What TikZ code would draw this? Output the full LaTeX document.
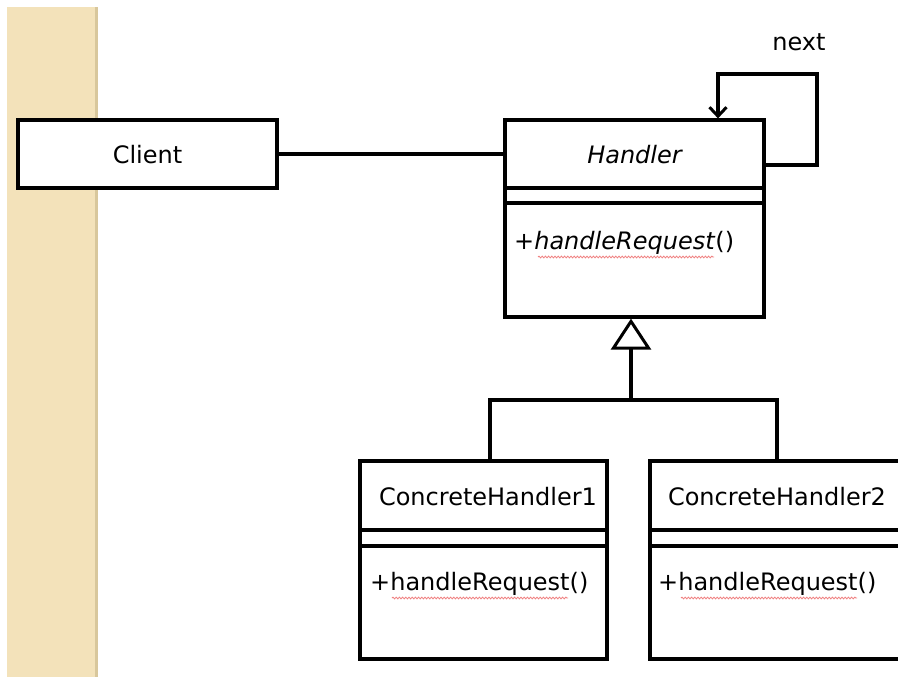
\documentclass[tikz,border=0pt]{standalone}
\usepackage{fontspec}
\setmainfont{DejaVu Sans}
\usetikzlibrary{arrows.meta,decorations.pathmorphing}
\definecolor{strip}{HTML}{F3E2BA}
\definecolor{stripedge}{HTML}{D8C79C}
\definecolor{squig}{HTML}{F08080}
\tikzset{
  x=1pt,y=-1pt,
  umlbox/.style={draw=black,line width=3.2pt,fill=white,rectangle,inner sep=0pt},
  conn/.style={draw=black,line width=3.2pt},
  lbl/.style={inner sep=0pt,font=\fontsize{24}{28}\selectfont},
  mlbl/.style={lbl,anchor=west},
  squiggle/.style={draw=squig,line width=0.8pt,decorate,decoration={snake,amplitude=0.9pt,segment length=3.2pt}}
}
\begin{document}
\begin{tikzpicture}
\useasboundingbox (0,0) rectangle (898,677);
\clip (0,0) rectangle (898,677);
% left strip
\fill[strip] (7,7) rectangle (98,677);
\fill[stripedge] (95,7) rectangle (98,677);

% Client
\node[umlbox,minimum width=259pt,minimum height=68pt] (client) at (147.5,154) {};
\node[lbl] (clientname) at (147.5,155) {Client};

% Handler
\node[umlbox,minimum width=259pt,minimum height=197pt] (handler) at (634.5,218.5) {};
\node[lbl] (handlername) at (634.5,155) {\itshape Handler};
\draw[conn] (505,188) -- (764,188);
\draw[conn] (505,203) -- (764,203);
\node[mlbl] (hmeth) at (514,243) {+\textit{handleRequest}()};

% association
\draw[conn] (client.east) -- (handler.west |- client.east);

% self association "next"
\coordinate (loopR) at (817,165);
\coordinate (loopT) at (718,74);
\draw[conn,-{Straight Barb[length=9pt,width=17pt,line width=3pt]}]
  (handler.east |- loopR) -- (loopR) |- (loopT) -- (loopT |- handler.north);
\node[lbl] (next) at (799,42) {next};

% Concrete handlers
\node[umlbox,minimum width=247pt,minimum height=198pt] (ch1) at (483.5,560) {};
\node[lbl] (ch1name) at (488,497) {ConcreteHandler1};
\draw[conn] (360,530) -- (607,530);
\draw[conn] (360,546) -- (607,546);
\node[mlbl] (ch1meth) at (370,584) {+handleRequest()};

\node[umlbox,minimum width=250pt,minimum height=198pt] (ch2) at (775,560) {};
\node[lbl] (ch2name) at (777,497) {ConcreteHandler2};
\draw[conn] (650,530) -- (905,530);
\draw[conn] (650,546) -- (905,546);
\node[mlbl] (ch2meth) at (658,584) {+handleRequest()};

% generalization
\coordinate (j) at (631,400);
\draw[conn] (ch1.north -| 490,0) |- (j) -| (ch2.north -| 777,0);
\draw[conn,-{Triangle[open,length=31pt,width=40pt,line width=3pt,fill=white]}] (j) -- (j |- handler.south);

% spell-check squiggles
\draw[squiggle] (538,257) -- (714,257);
\draw[squiggle] (392,598) -- (568,598);
\draw[squiggle] (681,598) -- (857,598);
\end{tikzpicture}
\end{document}
